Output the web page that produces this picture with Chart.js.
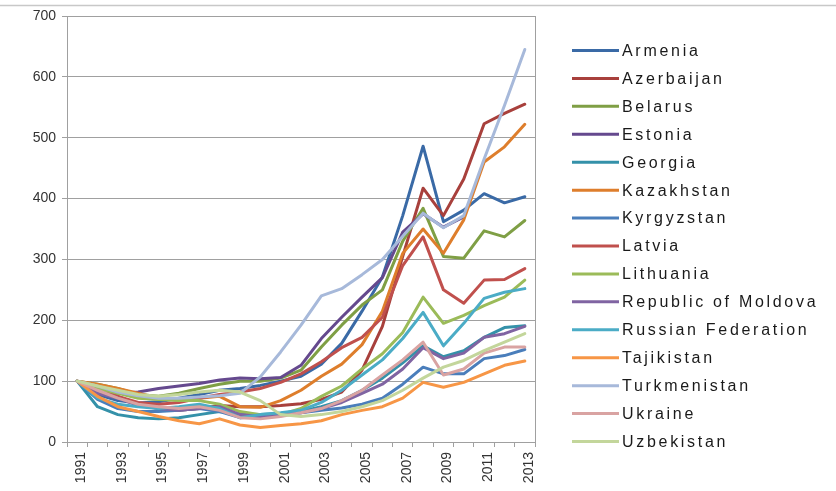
<!DOCTYPE html>
<html>
<head>
<meta charset="utf-8">
<script src="https://cdn.jsdelivr.net/npm/chart.js@4/dist/chart.umd.min.js"></script>
<style>
  html, body { margin: 0; padding: 0; background: #ffffff; }
  canvas { display: block; }
</style>
</head>
<body>
<canvas id="c" width="836" height="491"></canvas>
<script>
const years = ['1991','1992','1993','1994','1995','1996','1997','1998','1999','2000','2001','2002','2003','2004','2005','2006','2007','2008','2009','2010','2011','2012','2013'];
const yTicks = [0, 100, 200, 300, 400, 500, 600, 700];

const seriesNames = ['Armenia','Azerbaijan','Belarus','Estonia','Georgia','Kazakhstan','Kyrgyzstan','Latvia','Lithuania','Republic of Moldova','Russian Federation','Tajikistan','Turkmenistan','Ukraine','Uzbekistan'];

const armenia      = [100, 78, 68, 64, 66, 72, 78, 85, 88, 93, 100, 108, 128, 162, 215, 271, 372, 486, 362, 381, 408, 393, 403];
const azerbaijan   = [100, 88, 75, 62, 55, 52, 55, 60, 58, 58, 60, 63, 70, 82, 118, 190, 305, 417, 372, 432, 523, 540, 555];
const belarus      = [100, 95, 88, 78, 75, 80, 88, 95, 100, 100, 105, 118, 156, 192, 225, 250, 330, 384, 305, 302, 347, 337, 364];
const estonia      = [100, 90, 80, 82, 88, 92, 96, 102, 105, 104, 106, 126, 170, 205, 238, 270, 345, 375, 353, 370, null, null, null];
const georgia      = [100, 58, 45, 40, 38, 40, 45, 50, 46, 45, 47, 50, 58, 68, 85, 105, 130, 158, 140, 150, 172, 188, 191];
const kazakhstan   = [100, 95, 88, 80, 72, 70, 72, 75, 58, 57, 68, 85, 108, 128, 160, 215, 310, 350, 310, 365, 460, 485, 522];
const kyrgyzstan   = [100, 70, 55, 50, 50, 52, 55, 50, 40, 42, 45, 48, 52, 56, 62, 72, 95, 123, 112, 112, 137, 142, 152];
const latvia       = [100, 85, 75, 65, 62, 65, 72, 78, 82, 88, 98, 112, 132, 155, 172, 205, 290, 337, 250, 228, 266, 267, 285];
const lithuania    = [100, 88, 80, 72, 70, 68, 68, 62, 50, 45, 45, 55, 75, 92, 120, 145, 180, 238, 195, 208, 224, 238, 266];
const moldova      = [100, 80, 72, 60, 55, 52, 55, 58, 45, 42, 45, 48, 55, 65, 80, 95, 120, 155, 137, 146, 172, 178, 190];
const russia       = [100, 72, 62, 58, 55, 58, 62, 55, 40, 45, 48, 52, 65, 85, 110, 135, 170, 213, 158, 195, 236, 246, 252];
const tajikistan   = [100, 75, 58, 50, 42, 35, 30, 38, 28, 24, 27, 30, 35, 45, 52, 58, 72, 98, 90, 98, 112, 126, 133];
const turkmenistan = [100, 92, 82, 76, 72, 72, 74, 76, 80, 107, 148, 192, 240, 252, 275, 300, 338, 376, 352, 372, 465, 553, 645];
const ukraine      = [100, 85, 72, 62, 58, 55, 58, 52, 40, 38, 42, 48, 55, 68, 85, 110, 135, 164, 110, 120, 146, 156, 156];
const uzbekistan   = [100, 92, 85, 78, 75, 78, 82, 85, 82, 68, 45, 42, 45, 50, 58, 68, 85, 105, 123, 134, 150, 164, 178];

const seriesValues = [armenia, azerbaijan, belarus, estonia, georgia, kazakhstan, kyrgyzstan, latvia, lithuania, moldova, russia, tajikistan, turkmenistan, ukraine, uzbekistan];
const seriesColors = ['#3A6AA6','#A8403C','#7F9F45','#65498E','#3491A9','#DE7E2C','#4A7EBB','#C0504D','#9BBB59','#8064A2','#4BACC6','#F79646','#A7B9DA','#D9A3A2','#C3D69B'];

const N = seriesNames.length;
const datasets = seriesNames.map((name, i) => ({
  label: name,
  data: seriesValues[i],
  borderColor: seriesColors[i],
  backgroundColor: seriesColors[i],
  borderWidth: 3,
  pointRadius: 0,
  tension: 0,
  fill: false,
  spanGaps: false,
  borderJoinStyle: 'round',
  borderCapStyle: 'round',
  order: N - i
}));

const GRID = '#A0A0A0';
const FONT = "'Liberation Sans', Arial, sans-serif";

const framePlugin = {
  id: 'frame',
  beforeDraw(chart) {
    const ctx = chart.ctx;
    ctx.save();
    ctx.fillStyle = '#ffffff';
    ctx.fillRect(0, 0, chart.width, chart.height);
    ctx.strokeStyle = '#C8C8C8';
    ctx.lineWidth = 1.5;
    ctx.beginPath();
    ctx.moveTo(0, 5.5);
    ctx.lineTo(chart.width, 5.5);
    ctx.stroke();
    ctx.restore();
  },
  beforeDatasetsDraw(chart) {
    const a = chart.chartArea;
    const ctx = chart.ctx;
    ctx.save();
    ctx.strokeStyle = GRID;
    ctx.lineWidth = 1;
    ctx.beginPath();
    ctx.moveTo(Math.round(a.right) + 0.5, a.top);
    ctx.lineTo(Math.round(a.right) + 0.5, a.bottom);
    ctx.stroke();
    ctx.restore();
  },
  afterDraw(chart) {
    const ctx = chart.ctx;
    ctx.save();
    ctx.font = '16px ' + FONT;
    try { ctx.letterSpacing = '2.7px'; } catch (e) {}
    ctx.textBaseline = 'middle';
    ctx.textAlign = 'left';
    const x0 = 572, x1 = 619, tx = 622, y0 = 50.5, dy = 27.93;
    chart.data.datasets.forEach((ds, i) => {
      const y = y0 + i * dy;
      ctx.strokeStyle = ds.borderColor;
      ctx.lineWidth = 3;
      ctx.beginPath();
      ctx.moveTo(x0, y);
      ctx.lineTo(x1, y);
      ctx.stroke();
      ctx.fillStyle = '#1a1a1a';
      ctx.fillText(ds.label, tx, y + 1);
    });
    ctx.restore();
  }
};

new Chart(document.getElementById('c'), {
  type: 'line',
  data: { labels: years, datasets },
  plugins: [framePlugin],
  options: {
    responsive: false,
    animation: false,
    devicePixelRatio: 1,
    layout: { padding: { top: 16, right: 301, left: 0, bottom: 0 } },
    plugins: { legend: { display: false }, tooltip: { enabled: false } },
    scales: {
      x: {
        type: 'category',
        offset: true,
        afterFit(scale) { scale.height = 49; },
        grid: { offset: true, drawOnChartArea: false, drawTicks: true, tickLength: 5, color: GRID },
        border: { display: true, color: GRID, width: 1 },
        ticks: {
          autoSkip: false,
          maxRotation: 90,
          minRotation: 90,
          padding: 5,
          labelOffset: 4,
          color: '#333333',
          font: { family: FONT, size: 14 },
          callback: (v, idx) => (idx % 2 === 0 ? years[idx] : '')
        }
      },
      y: {
        min: yTicks[0],
        max: yTicks[yTicks.length - 1],
        afterFit(scale) { scale.width = 67; },
        afterBuildTicks(scale) { scale.ticks = yTicks.map(v => ({ value: v })); },
        grid: { color: GRID, lineWidth: 1, tickLength: 5, drawTicks: true },
        border: { display: true, color: GRID, width: 1 },
        ticks: {
          padding: 6,
          color: '#333333',
          font: { family: FONT, size: 14 }
        }
      }
    }
  }
});
</script>
</body>
</html>
